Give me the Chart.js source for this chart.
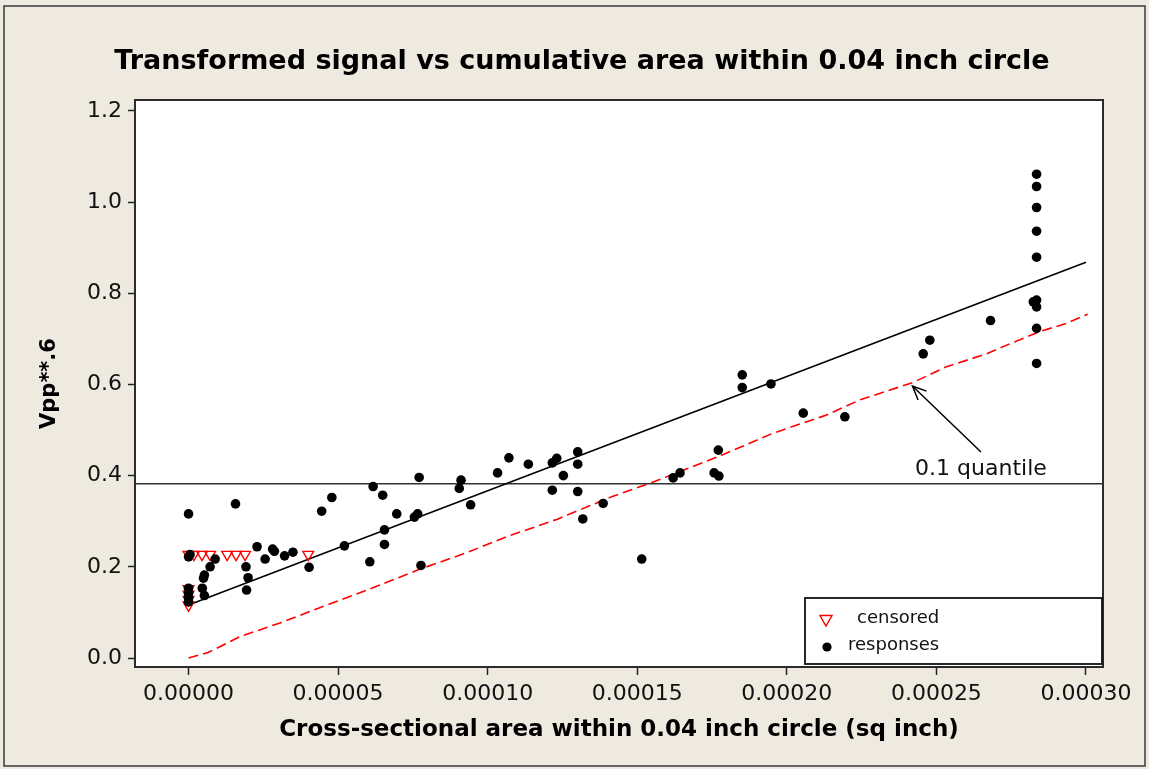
<!DOCTYPE html>
<html>
<head>
<meta charset="utf-8">
<script src="https://cdn.jsdelivr.net/npm/chart.js@4.4.1/dist/chart.umd.min.js"></script>
<style>
  html, body { margin: 0; padding: 0; background: #EEEAE0; }
  #wrap { width: 1149px; height: 769px; position: relative; }
</style>
</head>
<body>
<div id="wrap"><canvas id="chart" width="1149" height="769"></canvas></div>
<script>
// Axis ticks
const xTicks = [0, 0.00005, 0.00010, 0.00015, 0.00020, 0.00025, 0.00030];
const yTicks = [0.0, 0.2, 0.4, 0.6, 0.8, 1.0, 1.2];

// Observed responses (area, Vpp**.6)
const respX = [
  0, 0, 0.0000005, 0, 0, 0, 0,
  0.0000089, 0.0000072, 0.0000053, 0.0000050, 0.0000046, 0.0000053,
  0.0000157, 0.0000192, 0.0000199, 0.0000194, 0.0000229, 0.0000256,
  0.0000281, 0.0000287, 0.0000321, 0.0000349, 0.0000403, 0.0000445,
  0.0000479, 0.0000521, 0.0000606, 0.0000617, 0.0000649, 0.0000655,
  0.0000655, 0.0000696, 0.0000755, 0.0000766, 0.0000771, 0.0000777,
  0.0000905, 0.0000911, 0.0000943, 0.0001033, 0.0001071, 0.0001136,
  0.0001216, 0.0001231, 0.0001216, 0.0001253, 0.0001301, 0.0001301,
  0.0001301, 0.0001318, 0.0001386, 0.0001515, 0.0001620, 0.0001643,
  0.0001757, 0.0001773, 0.0001771, 0.0001851, 0.0001851, 0.0001947,
  0.0002055, 0.0002194, 0.0002456, 0.0002478, 0.0002681,
  0.0002835, 0.0002835, 0.0002835, 0.0002835, 0.0002835,
  0.0002835, 0.0002824, 0.0002835, 0.0002835, 0.0002835
];
const respY = [
  0.316, 0.222, 0.227, 0.153, 0.142, 0.132, 0.123,
  0.217, 0.200, 0.182, 0.175, 0.153, 0.137,
  0.338, 0.200, 0.176, 0.149, 0.244, 0.217,
  0.239, 0.234, 0.224, 0.232, 0.199, 0.322,
  0.352, 0.246, 0.211, 0.376, 0.357, 0.281,
  0.249, 0.316, 0.309, 0.316, 0.396, 0.203,
  0.372, 0.390, 0.336, 0.406, 0.439, 0.425,
  0.428, 0.438, 0.368, 0.400, 0.452, 0.425,
  0.365, 0.305, 0.339, 0.217, 0.395, 0.406,
  0.406, 0.399, 0.456, 0.621, 0.593, 0.601,
  0.537, 0.529, 0.667, 0.697, 0.740,
  1.061, 1.034, 0.988, 0.936, 0.879,
  0.785, 0.781, 0.770, 0.723, 0.646
];

// Censored observations
const censX = [0, 0.0000018, 0.0000045, 0.0000072, 0.0000129, 0.0000159, 0.0000189, 0.0000400,
               0, 0, 0, 0];
const censY = [0.227, 0.227, 0.227, 0.227, 0.227, 0.227, 0.227, 0.227,
               0.152, 0.140, 0.128, 0.116];

// Fitted median line
const fitX = [0, 0.00030];
const fitY = [0.116, 0.868];

// 0.1 quantile curve
const qX = [0, 0.0000065, 0.0000172, 0.0000306, 0.0000506, 0.0000596, 0.0000774, 0.0000930,
            0.0001063, 0.0001231, 0.0001419, 0.0001542, 0.0001643, 0.0001776, 0.0001954,
            0.0002133, 0.0002244, 0.0002421, 0.0002534, 0.0002668, 0.0002756, 0.0002846,
            0.0002935, 0.0003006];
const qY = [0.000, 0.012, 0.047, 0.077, 0.127, 0.149, 0.195, 0.231,
            0.266, 0.304, 0.355, 0.383, 0.409, 0.443, 0.493,
            0.533, 0.566, 0.604, 0.639, 0.667, 0.692, 0.716,
            0.734, 0.754];

// Detection threshold
const thresholdY = 0.382;

const X_MIN = -0.0000179, X_MAX = 0.0003057;
const Y_MIN = -0.0197, Y_MAX = 1.2237;

const FONT = "'DejaVu Sans', Verdana, sans-serif";
const TITLE = 'Transformed signal vs cumulative area within 0.04 inch circle';

const pts = (xs, ys) => xs.map((x, i) => ({ x: x, y: ys[i] }));

// Page background, white plot area, outer border
const backdrop = {
  id: 'backdrop',
  beforeDraw(chart) {
    const { ctx, chartArea: a } = chart;
    ctx.save();
    ctx.fillStyle = '#EEEAE0';
    ctx.fillRect(0, 0, chart.width, chart.height);
    ctx.fillStyle = '#FFFFFF';
    ctx.fillRect(a.left, a.top, a.right - a.left, a.bottom - a.top);
    ctx.strokeStyle = '#3a3a3a';
    ctx.lineWidth = 1.5;
    ctx.strokeRect(4, 6, chart.width - 8, chart.height - 9);
    ctx.restore();
  }
};

// Page title, centred on the page
const pageTitle = {
  id: 'pageTitle',
  afterDraw(chart) {
    const { ctx } = chart;
    ctx.save();
    ctx.fillStyle = '#000';
    ctx.font = 'bold 27px ' + FONT;
    ctx.textAlign = 'center';
    ctx.textBaseline = 'middle';
    ctx.fillText(TITLE, 582, 62);
    ctx.restore();
  }
};

// Box around the plot area
const frame = {
  id: 'frame',
  afterDatasetsDraw(chart) {
    const { ctx, chartArea: a } = chart;
    ctx.save();
    ctx.strokeStyle = '#2b2b2b';
    ctx.lineWidth = 2;
    ctx.strokeRect(a.left, a.top, a.right - a.left, a.bottom - a.top);
    ctx.restore();
  }
};

// Arrow and label pointing at the quantile curve
const quantileNote = {
  id: 'quantileNote',
  afterDraw(chart) {
    const { ctx, scales: { x, y } } = chart;
    const tipX = x.getPixelForValue(0.000242), tipY = y.getPixelForValue(0.5965);
    const tailX = x.getPixelForValue(0.0002649), tailY = y.getPixelForValue(0.4518);
    const ang = Math.atan2(tailY - tipY, tailX - tipX);
    ctx.save();
    ctx.strokeStyle = '#000';
    ctx.lineWidth = 1.5;
    ctx.beginPath();
    ctx.moveTo(tailX, tailY);
    ctx.lineTo(tipX, tipY);
    const len = 15, spread = 0.42;
    ctx.moveTo(tipX + len * Math.cos(ang - spread), tipY + len * Math.sin(ang - spread));
    ctx.lineTo(tipX, tipY);
    ctx.lineTo(tipX + len * Math.cos(ang + spread), tipY + len * Math.sin(ang + spread));
    ctx.stroke();
    ctx.fillStyle = '#111';
    ctx.font = '22px ' + FONT;
    ctx.textAlign = 'center';
    ctx.textBaseline = 'middle';
    ctx.fillText('0.1 quantile', x.getPixelForValue(0.0002649), y.getPixelForValue(0.4145));
    ctx.restore();
  }
};

// Legend box in the lower right corner of the plot
const legendBox = {
  id: 'legendBox',
  afterDraw(chart) {
    const { ctx, chartArea: a } = chart;
    const left = a.right - 298, top = a.bottom - 69, w = 297, h = 66;
    ctx.save();
    ctx.fillStyle = '#FFFFFF';
    ctx.fillRect(left, top, w, h);
    ctx.strokeStyle = '#111';
    ctx.lineWidth = 1.8;
    ctx.strokeRect(left, top, w, h);
    // censored marker
    const tx = left + 21, ty = top + 21, r = 7;
    ctx.strokeStyle = '#FF0000';
    ctx.lineWidth = 1.4;
    ctx.beginPath();
    ctx.moveTo(tx - r * 0.866, ty - r * 0.5);
    ctx.lineTo(tx + r * 0.866, ty - r * 0.5);
    ctx.lineTo(tx, ty + r);
    ctx.closePath();
    ctx.stroke();
    // responses marker
    ctx.fillStyle = '#000';
    ctx.beginPath();
    ctx.arc(left + 22, top + 49, 4.6, 0, Math.PI * 2);
    ctx.fill();
    ctx.fillStyle = '#111';
    ctx.font = '18px ' + FONT;
    ctx.textAlign = 'left';
    ctx.textBaseline = 'middle';
    ctx.fillText(chart.data.datasets[1].label, left + 52, top + 20);
    ctx.fillText(chart.data.datasets[0].label, left + 43, top + 47);
    ctx.restore();
  }
};

new Chart(document.getElementById('chart'), {
  type: 'scatter',
  data: {
    datasets: [
      {
        label: 'responses',
        data: pts(respX, respY),
        pointStyle: 'circle',
        pointRadius: 4.8,
        pointBorderWidth: 0,
        backgroundColor: '#000',
        borderColor: '#000',
        order: 0
      },
      {
        label: 'censored',
        data: pts(censX, censY),
        pointStyle: 'triangle',
        rotation: 180,
        pointRadius: 6.2,
        pointBorderWidth: 1.4,
        borderColor: '#FF0000',
        backgroundColor: 'rgba(0,0,0,0)',
        order: 1
      },
      {
        label: 'fit',
        data: pts(fitX, fitY),
        showLine: true,
        pointRadius: 0,
        borderColor: '#000',
        borderWidth: 1.6,
        order: 2
      },
      {
        label: 'quantile',
        data: pts(qX, qY),
        showLine: true,
        pointRadius: 0,
        borderColor: '#FF0000',
        borderWidth: 1.6,
        borderDash: [10, 5],
        order: 3
      },
      {
        label: 'threshold',
        data: [{ x: X_MIN, y: thresholdY }, { x: X_MAX, y: thresholdY }],
        showLine: true,
        pointRadius: 0,
        borderColor: '#333',
        borderWidth: 1.5,
        order: 4
      }
    ]
  },
  options: {
    responsive: false,
    animation: false,
    events: [],
    layout: { padding: { left: 0, right: 46, top: 100, bottom: 0 } },
    plugins: {
      legend: { display: false },
      tooltip: { enabled: false },
      title: { display: false }
    },
    scales: {
      x: {
        type: 'linear',
        min: X_MIN, max: X_MAX,
        afterFit(s) { s.height = 102; },
        afterBuildTicks(s) { s.ticks = xTicks.map(v => ({ value: v })); },
        grid: { drawOnChartArea: false, tickLength: 8, color: '#222', tickWidth: 1.5 },
        border: { display: false },
        ticks: {
          color: '#111',
          padding: 6,
          maxRotation: 0,
          autoSkip: false,
          font: { family: FONT, size: 22 },
          callback: v => v.toFixed(5)
        },
        title: {
          display: true,
          text: 'Cross-sectional area within 0.04 inch circle (sq inch)',
          color: '#000',
          font: { family: FONT, size: 23, weight: 'bold' },
          padding: { top: 0, bottom: 25 }
        }
      },
      y: {
        type: 'linear',
        min: Y_MIN, max: Y_MAX,
        afterFit(s) { s.width = 135; },
        afterBuildTicks(s) { s.ticks = yTicks.map(v => ({ value: v })); },
        grid: { drawOnChartArea: false, tickLength: 7, color: '#222', tickWidth: 1.5 },
        border: { display: false },
        ticks: {
          color: '#111',
          padding: 6,
          autoSkip: false,
          font: { family: FONT, size: 22 },
          callback: v => v.toFixed(1)
        },
        title: {
          display: true,
          text: 'Vpp**.6',
          color: '#000',
          font: { family: FONT, size: 21, weight: 'bold' },
          padding: { top: 37, bottom: 0 }
        }
      }
    }
  },
  plugins: [backdrop, frame, quantileNote, legendBox, pageTitle]
});
</script>
</body>
</html>
